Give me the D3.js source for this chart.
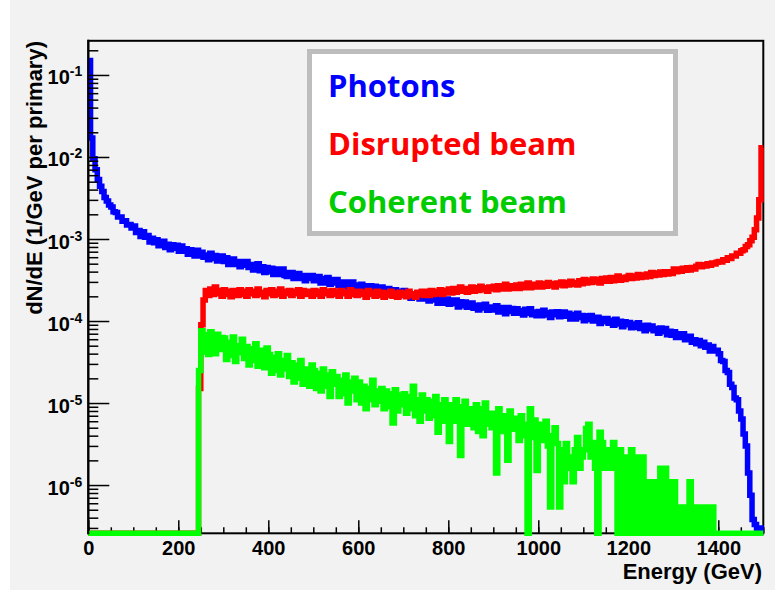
<!DOCTYPE html>
<html>
<head>
<meta charset="utf-8">
<script src="https://cdn.jsdelivr.net/npm/d3@7"></script>
<style>
  body { margin: 0; background: #ffffff; }
  svg { display: block; }
</style>
</head>
<body>
<div id="chart"></div>
<script>
// histogram binning (GeV)
const binWidth = 5;
const energyRange = [0, 1500];
const yRange = [2.58e-7, 0.261];

const xTickLabels = [0, 200, 400, 600, 800, 1000, 1200, 1400];
const yDecades = [1e-1, 1e-2, 1e-3, 1e-4, 1e-5, 1e-6];
const yDecadeExp = ["-1", "-2", "-3", "-4", "-5", "-6"];

const seriesNames = ["Photons", "Disrupted beam", "Coherent beam"];

// dN/dE per 5 GeV bin
const photons = [
  1.5e-1,1.7e-2,9.5e-3,7.0e-3,5.3e-3,4.4e-3,3.8e-3,3.2e-3,2.9e-3,2.6e-3,
  2.45e-3,2.15e-3,2.1e-3,1.85e-3,1.85e-3,1.65e-3,1.67e-3,1.48e-3,1.5e-3,1.36e-3,
  1.44e-3,1.20e-3,1.27e-3,1.07e-3,1.23e-3,1.05e-3,1.10e-3,9.2e-4,1.02e-3,9.0e-4,
  9.8e-4,8.3e-4,9.1e-4,9.4e-4,7.9e-4,8.6e-4,7.4e-4,8.5e-4,7.7e-4,8.4e-4,
  7.1e-4,8.2e-4,7.1e-4,7.6e-4,6.5e-4,7.4e-4,6.9e-4,6.2e-4,7.3e-4,6.2e-4,
  6.9e-4,6.0e-4,6.4e-4,5.6e-4,6.7e-4,5.8e-4,6.3e-4,5.4e-4,5.8e-4,6.2e-4,
  5.3e-4,5.9e-4,4.9e-4,5.5e-4,5.7e-4,4.9e-4,5.3e-4,4.6e-4,5.3e-4,4.8e-4,
  5.3e-4,4.5e-4,4.9e-4,4.2e-4,4.7e-4,5.0e-4,4.1e-4,4.6e-4,3.9e-4,4.5e-4,
  4.0e-4,4.4e-4,3.7e-4,4.1e-4,4.3e-4,3.7e-4,4.3e-4,3.6e-4,3.5e-4,3.9e-4,
  3.9e-4,3.3e-4,3.7e-4,3.8e-4,3.3e-4,3.6e-4,3.1e-4,3.6e-4,3.3e-4,3.6e-4,
  3.1e-4,3.5e-4,3.5e-4,2.9e-4,3.3e-4,2.9e-4,3.4e-4,2.8e-4,3.2e-4,2.9e-4,
  3.2e-4,2.7e-4,3.0e-4,2.6e-4,3.0e-4,2.85e-4,2.5e-4,3.0e-4,2.6e-4,2.75e-4,
  2.5e-4,2.8e-4,2.5e-4,2.7e-4,2.25e-4,2.7e-4,2.4e-4,2.65e-4,2.25e-4,2.5e-4,
  2.6e-4,2.15e-4,2.4e-4,2.5e-4,2.15e-4,2.2e-4,2.4e-4,2.0e-4,2.3e-4,2.1e-4,
  2.35e-4,2.05e-4,2.2e-4,1.9e-4,2.15e-4,2.0e-4,2.15e-4,1.85e-4,2.05e-4,1.85e-4,
  2.05e-4,1.75e-4,2.1e-4,1.8e-4,1.9e-4,1.65e-4,1.9e-4,1.65e-4,1.8e-4,1.85e-4,
  1.6e-4,1.8e-4,1.63e-4,1.8e-4,1.48e-4,1.72e-4,1.54e-4,1.7e-4,1.47e-4,1.6e-4,
  1.66e-4,1.43e-4,1.56e-4,1.36e-4,1.57e-4,1.44e-4,1.6e-4,1.35e-4,1.48e-4,1.36e-4,
  1.36e-4,1.54e-4,1.29e-4,1.46e-4,1.41e-4,1.23e-4,1.46e-4,1.31e-4,1.42e-4,1.24e-4,
  1.41e-4,1.24e-4,1.34e-4,1.18e-4,1.39e-4,1.24e-4,1.41e-4,1.19e-4,1.29e-4,1.16e-4,
  1.31e-4,1.16e-4,1.35e-4,1.18e-4,1.27e-4,1.10e-4,1.29e-4,1.19e-4,1.30e-4,1.13e-4,
  1.14e-4,1.29e-4,1.14e-4,1.24e-4,1.06e-4,1.20e-4,1.06e-4,1.24e-4,1.10e-4,1.17e-4,
  1.01e-4,1.16e-4,1.04e-4,1.17e-4,1.00e-4,1.08e-4,1.11e-4,9.3e-5,1.07e-4,9.8e-5,
  1.07e-4,9.4e-5,1.02e-4,8.9e-5,1.05e-4,9.2e-5,9.9e-5,8.5e-5,9.8e-5,9.0e-5,
  9.6e-5,8.3e-5,9.2e-5,8.4e-5,9.5e-5,8.1e-5,8.8e-5,7.6e-5,8.9e-5,8.0e-5,
  8.7e-5,7.6e-5,8.1e-5,7.1e-5,8.2e-5,7.4e-5,8.1e-5,6.8e-5,7.5e-5,6.7e-5,
  7.4e-5,6.3e-5,7.0e-5,6.3e-5,7.0e-5,5.9e-5,6.3e-5,6.5e-5,5.5e-5,5.9e-5,
  5.3e-5,5.8e-5,5.0e-5,5.5e-5,4.8e-5,5.1e-5,4.3e-5,4.9e-5,4.3e-5,4.4e-5,
  4.0e-5,3.3e-5,3.2e-5,2.5e-5,2.35e-5,1.7e-5,1.55e-5,1.15e-5,1.1e-5,8.0e-6,
  6.4e-6,4.2e-6,3.0e-6,1.4e-6,7.5e-7,3.8e-7,3.3e-7,2.9e-7,3.0e-7,0
];

const disrupted = [
  0,0,0,0,0,0,0,0,0,0,
  0,0,0,0,0,0,0,0,0,0,
  0,0,0,0,0,0,0,0,0,0,
  0,0,0,0,0,0,0,0,0,0,
  0,0,0,0,0,0,0,0,0,1.5e-5,
  9.0e-5,1.8e-4,2.35e-4,2.05e-4,2.45e-4,2.1e-4,2.6e-4,2.15e-4,2.35e-4,2.0e-4,
  2.4e-4,2.1e-4,2.3e-4,1.98e-4,2.35e-4,2.2e-4,2.05e-4,2.4e-4,2.1e-4,2.3e-4,
  2.0e-4,2.4e-4,2.15e-4,2.3e-4,2.05e-4,2.45e-4,2.1e-4,2.25e-4,1.98e-4,2.35e-4,
  2.15e-4,2.4e-4,2.05e-4,2.3e-4,2.1e-4,2.45e-4,2.0e-4,2.3e-4,2.15e-4,2.35e-4,
  2.05e-4,2.3e-4,2.15e-4,2.4e-4,2.0e-4,2.35e-4,2.1e-4,2.3e-4,2.2e-4,2.0e-4,
  2.35e-4,2.1e-4,2.3e-4,2.0e-4,2.4e-4,2.15e-4,2.3e-4,2.05e-4,2.35e-4,2.1e-4,
  2.3e-4,2.0e-4,2.35e-4,2.15e-4,2.25e-4,2.0e-4,2.4e-4,2.1e-4,2.3e-4,2.05e-4,
  2.3e-4,2.1e-4,2.25e-4,1.95e-4,2.35e-4,2.1e-4,2.25e-4,2.0e-4,2.3e-4,2.05e-4,
  2.25e-4,1.95e-4,2.2e-4,2.05e-4,2.3e-4,2.0e-4,2.2e-4,1.95e-4,2.25e-4,2.05e-4,
  2.2e-4,1.98e-4,2.3e-4,2.05e-4,2.15e-4,1.95e-4,2.25e-4,2.1e-4,2.3e-4,2.05e-4,
  2.3e-4,2.05e-4,2.35e-4,2.1e-4,2.3e-4,2.15e-4,2.4e-4,2.1e-4,2.35e-4,2.2e-4,
  2.45e-4,2.2e-4,2.5e-4,2.25e-4,2.4e-4,2.6e-4,2.3e-4,2.5e-4,2.25e-4,2.45e-4,
  2.6e-4,2.3e-4,2.55e-4,2.35e-4,2.65e-4,2.4e-4,2.55e-4,2.3e-4,2.6e-4,2.45e-4,
  2.65e-4,2.4e-4,2.7e-4,2.45e-4,2.6e-4,2.8e-4,2.45e-4,2.7e-4,2.5e-4,2.65e-4,
  2.75e-4,2.5e-4,2.8e-4,2.55e-4,2.7e-4,2.9e-4,2.55e-4,2.8e-4,2.6e-4,2.75e-4,
  2.9e-4,2.6e-4,2.85e-4,2.65e-4,2.95e-4,2.7e-4,2.85e-4,2.6e-4,2.9e-4,2.75e-4,
  3.0e-4,2.7e-4,2.95e-4,2.75e-4,3.05e-4,2.8e-4,2.95e-4,2.75e-4,3.1e-4,2.85e-4,
  3.2e-4,2.9e-4,3.15e-4,2.95e-4,3.25e-4,3.0e-4,3.2e-4,2.9e-4,3.3e-4,3.05e-4,
  3.35e-4,3.05e-4,3.4e-4,3.1e-4,3.3e-4,3.55e-4,3.15e-4,3.4e-4,3.2e-4,3.45e-4,
  3.6e-4,3.3e-4,3.55e-4,3.35e-4,3.7e-4,3.4e-4,3.65e-4,3.45e-4,3.75e-4,3.5e-4,
  3.9e-4,3.6e-4,3.85e-4,3.65e-4,3.95e-4,3.7e-4,4.0e-4,3.75e-4,4.0e-4,3.8e-4,
  4.3e-4,4.0e-4,4.3e-4,4.05e-4,4.4e-4,4.15e-4,4.45e-4,4.2e-4,4.5e-4,4.3e-4,
  4.65e-4,4.9e-4,4.6e-4,4.85e-4,4.7e-4,5.0e-4,4.8e-4,5.1e-4,4.95e-4,5.2e-4,
  5.3e-4,5.25e-4,5.6e-4,5.5e-4,5.9e-4,5.8e-4,6.2e-4,6.2e-4,6.7e-4,6.7e-4,
  7.2e-4,7.4e-4,8.1e-4,8.5e-4,9.5e-4,1.05e-3,1.3e-3,1.8e-3,3.0e-3,1.3e-2
];

const coherent = [
  0,0,0,0,0,0,0,0,0,0,
  0,0,0,0,0,0,0,0,0,0,
  0,0,0,0,0,0,0,0,0,0,
  0,0,0,0,0,0,0,0,0,0,
  0,0,0,0,0,0,0,0,0,2.5e-5,
  7.6e-5,4.2e-5,6.8e-5,3.9e-5,7.4e-5,5.0e-5,4.0e-5,6.9e-5,4.5e-5,6.3e-5,
  6.2e-5,3.4e-5,5.5e-5,3.8e-5,6.4e-5,3.2e-5,5.0e-5,4.1e-5,6.0e-5,3.5e-5,
  4.9e-5,2.9e-5,4.6e-5,3.3e-5,5.3e-5,2.8e-5,4.4e-5,3.5e-5,2.7e-5,4.7e-5,
  3.9e-5,2.3e-5,3.6e-5,2.5e-5,4.0e-5,2.2e-5,3.3e-5,2.6e-5,3.8e-5,2.1e-5,
  3.1e-5,1.8e-5,2.9e-5,2.0e-5,3.3e-5,1.7e-5,2.6e-5,2.1e-5,1.6e-5,2.9e-5,
  2.5e-5,1.5e-5,2.3e-5,1.4e-5,2.6e-5,1.6e-5,2.2e-5,1.2e-5,2.4e-5,1.7e-5,
  2.1e-5,1.2e-5,1.9e-5,1.3e-5,2.2e-5,1.0e-5,1.8e-5,1.4e-5,2.0e-5,1.1e-5,
  1.8e-5,1.0e-5,1.6e-5,8.5e-6,1.5e-5,1.1e-5,1.9e-5,9.5e-6,1.4e-5,1.05e-5,
  1.5e-5,8.5e-6,1.4e-5,9.0e-6,1.3e-5,5.7e-6,1.45e-5,8.0e-6,1.25e-5,9.5e-6,
  1.3e-5,7.5e-6,1.2e-5,8.5e-6,1.6e-5,7.0e-6,1.1e-5,6.0e-6,1.25e-5,8.0e-6,
  1.1e-5,6.5e-6,1.05e-5,7.0e-6,1.2e-5,4.4e-6,9.5e-6,6.0e-6,1.1e-5,7.0e-6,
  3.4e-6,9.5e-6,6.0e-6,1.1e-5,6.5e-6,2.3e-6,9.0e-6,1.05e-5,5.5e-6,8.5e-6,
  8.0e-6,5.0e-6,9.5e-6,4.5e-6,8.5e-6,4.0e-6,1.0e-5,5.5e-6,7.5e-6,5.0e-6,
  7.5e-6,1.4e-6,8.5e-6,4.5e-6,7.0e-6,5.0e-6,2.0e-6,8.0e-6,4.8e-6,6.5e-6,
  6.0e-6,3.5e-6,7.0e-6,4.0e-6,5.5e-6,0,8.5e-6,3.8e-6,6.2e-6,1.5e-6,
  5.5e-6,3.5e-6,4.5e-6,6.0e-6,3.0e-6,5.4e-7,4.0e-6,5.0e-6,3.2e-6,5.4e-7,
  2.7e-6,1.1e-6,3.2e-6,1.6e-6,2.2e-6,1.1e-6,2.7e-6,3.8e-6,1.6e-6,2.2e-6,
  2.7e-6,4.9e-6,5.5e-6,2.2e-6,3.3e-6,1.6e-6,0,4.4e-6,3.3e-6,1.6e-6,
  2.2e-6,2.7e-6,1.6e-6,3.3e-6,2.2e-6,0,2.7e-6,1.6e-6,0,2.2e-6,
  0,2.7e-6,0,2.2e-6,1.6e-6,0,2.2e-6,0,1.1e-6,0,
  1.1e-6,0,1.1e-6,0,1.6e-6,0,1.6e-6,0,1.1e-6,0,
  1.1e-6,0,5.4e-7,0,5.4e-7,0,5.4e-7,1.1e-6,0,5.4e-7,
  5.4e-7,0,5.4e-7,0,5.4e-7,5.4e-7,0,5.4e-7,0,0,
  0,0,0,0,0,0,0,0,0,0,
  0,0,0,0,0,0,0,0,0,0
];

const W = 775, H = 590;
const frame = {left: 88.3, right: 763.3, top: 40.8, bottom: 533.3};
const axisFont = "'Liberation Sans', Arial, sans-serif";

const svg = d3.select("#chart").append("svg").attr("width", W).attr("height", H);

svg.append("rect").attr("x", 10).attr("y", 0).attr("width", W - 10).attr("height", H).attr("fill", "#f2f2f2");

let x = d3.scaleLinear().domain(energyRange).range([frame.left, frame.right]);
let y = d3.scaleLog().domain(yRange).range([frame.bottom, frame.top]);

// frame box (bottom edge sits under the histograms)
svg.append("rect")
   .attr("x", frame.left).attr("y", frame.top)
   .attr("width", frame.right - frame.left).attr("height", frame.bottom - frame.top)
   .attr("fill", "none").attr("stroke", "#000").attr("stroke-width", 2);

// x axis ticks: minor every 50, major every 200
let xMinor = svg.append("g").attr("transform", "translate(0," + frame.bottom + ")")
   .call(d3.axisBottom(x).tickValues(d3.range(0, 1501, 50)).tickSize(-6).tickFormat(""));
let xMajor = svg.append("g").attr("transform", "translate(0," + frame.bottom + ")")
   .call(d3.axisBottom(x).tickValues(xTickLabels).tickSize(-13).tickPadding(7.5).tickFormat(d3.format("d")));
[xMinor, xMajor].forEach(g => {
  g.select(".domain").remove();
  g.selectAll("line").attr("stroke", "#000").attr("stroke-width", 1.5);
});
xMajor.selectAll("text")
      .attr("font-family", axisFont).attr("font-size", 20).attr("font-weight", "bold").attr("fill", "#000");

// histograms drawn as steps
let stepLine = d3.line()
   .x(d => x(d[0]))
   .y(d => d[1] > yRange[0] ? y(d[1]) : frame.bottom)
   .curve(d3.curveStepAfter);

function binPoints(values) {
  let pts = values.map((v, i) => [i * binWidth, v]);
  pts.push([energyRange[1], values[values.length - 1]]);
  return pts;
}

let histos = [
  {values: photons,   color: "#0000ff"},
  {values: disrupted, color: "#ff0000"},
  {values: coherent,  color: "#00ff00"}
];

svg.selectAll("path.histo")
   .data(histos)
   .enter()
   .append("path")
   .attr("class", "histo")
   .attr("d", d => stepLine(binPoints(d.values)))
   .attr("fill", "none")
   .attr("stroke", d => d.color)
   .attr("stroke-width", 5.5)
   .attr("stroke-linejoin", "miter");

// y axis on top of the histograms
let yMinorVals = y.ticks().filter(v => yDecades.indexOf(v) < 0 && v >= yRange[0] && v <= yRange[1]);
let yMinor = svg.append("g").attr("transform", "translate(" + frame.left + ",0)")
   .call(d3.axisLeft(y).tickValues(yMinorVals).tickSize(-10).tickFormat(""));
let yMajor = svg.append("g").attr("transform", "translate(" + frame.left + ",0)")
   .call(d3.axisLeft(y).tickValues(yDecades).tickSize(-21).tickFormat(""));
[yMinor, yMajor].forEach(g => {
  g.select(".domain").remove();
  g.selectAll("line").attr("stroke", "#000").attr("stroke-width", 1.5);
});
yMajor.selectAll(".tick text").remove();
yMajor.selectAll(".tick").each(function(d, i) {
  let t = d3.select(this).append("text")
     .attr("x", -6).attr("y", 9)
     .attr("text-anchor", "end")
     .attr("font-family", axisFont).attr("font-weight", "bold").attr("fill", "#000");
  t.append("tspan").attr("font-size", 20).text("10");
  t.append("tspan").attr("font-size", 14).attr("dy", -8).text(yDecadeExp[i]);
});
svg.append("line")
   .attr("x1", frame.left).attr("x2", frame.left)
   .attr("y1", frame.top - 1).attr("y2", frame.bottom + 1)
   .attr("stroke", "#000").attr("stroke-width", 2);

// axis titles
svg.append("text")
   .attr("x", 762).attr("y", 579)
   .attr("text-anchor", "end")
   .attr("font-family", axisFont).attr("font-size", 22).attr("font-weight", "bold")
   .text("Energy (GeV)");

svg.append("text")
   .attr("transform", "translate(42,41) rotate(-90)")
   .attr("text-anchor", "end")
   .attr("font-family", axisFont).attr("font-size", 22).attr("font-weight", "bold")
   .text("dN/dE (1/GeV per primary)");

// legend box
let legend = svg.append("g");
legend.append("rect")
      .attr("x", 309.5).attr("y", 51.5).attr("width", 366).attr("height", 182)
      .attr("fill", "#ffffff").attr("stroke", "#bdbdbd").attr("stroke-width", 5);

let legendColors = ["#0000ff", "#ff0000", "#00cc00"];
legend.selectAll("text")
      .data(seriesNames)
      .enter()
      .append("text")
      .attr("x", 328)
      .attr("y", (d, i) => 97 + i * 58)
      .attr("font-family", "'Open Sans', sans-serif")
      .attr("font-size", 31)
      .attr("font-weight", "bold")
      .attr("fill", (d, i) => legendColors[i])
      .text(d => d);
</script>
</body>
</html>
